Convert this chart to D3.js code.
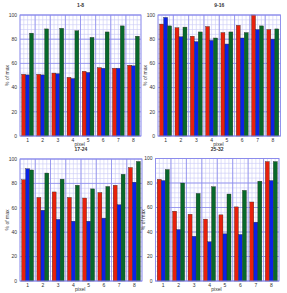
<!DOCTYPE html>
<html>
<head>
<meta charset="utf-8">
<script src="https://cdn.jsdelivr.net/npm/d3@7"></script>
<style>
  html, body { margin: 0; padding: 0; background: #fff; }
  svg { display: block; }
  text { font-family: "Liberation Sans", Arial, sans-serif; fill: #333; }
</style>
</head>
<body>
<div id="chart"></div>
<script>
const categories = ['1', '2', '3', '4', '5', '6', '7', '8'];
const yTicks = [0, 20, 40, 60, 80, 100];

const titles = ['1-8', '9-16', '17-24', '25-32'];

const red1 = [51, 51, 52, 48.5, 53.5, 56.5, 56, 58.5];
const blue1 = [50.5, 50.5, 51.5, 47.5, 52.5, 56, 56, 58];
const green1 = [85, 88.5, 89, 87, 81.5, 86, 91, 82.5];

const red2 = [92.5, 89.5, 82.5, 90.5, 85.5, 91.5, 100, 88];
const blue2 = [98, 82, 78, 79, 76, 81, 88, 80];
const green2 = [91, 90, 86, 81, 86, 85.5, 91, 88.5];

const red3 = [83, 68.5, 73, 68.5, 68, 72.5, 78.5, 93];
const blue3 = [92, 58, 50.5, 49, 49, 51.5, 62.5, 81];
const green3 = [91, 88.5, 83.5, 78.5, 75.5, 77.5, 87.5, 98];

const red4 = [83, 57, 54.5, 50.5, 54, 60.5, 64.5, 97.5];
const blue4 = [82, 42, 36.5, 32, 38.5, 38, 48, 82];
const green4 = [91, 80, 71.5, 77, 71, 74, 81.5, 97.5];

const redColor = '#e8210c';
const blueColor = '#0b22e6';
const greenColor = '#08692a';

const w = 287;
const h = 293;

// plot frames
const panels = [
    {left: 20, top: 15, right: 141, bottom: 136, red: red1, blue: blue1, green: green1},
    {left: 158, top: 15, right: 280.5, bottom: 136, red: red2, blue: blue2, green: green2},
    {left: 20, top: 159, right: 142, bottom: 281, red: red3, blue: blue3, green: green3},
    {left: 155.5, top: 158.5, right: 279, bottom: 281, red: red4, blue: blue4, green: green4}
];

const svg = d3.select('#chart')
    .append('svg')
    .attr('width', w)
    .attr('height', h);

panels.forEach(function (p, idx) {
    const g = svg.append('g');

    const xScale = d3.scaleLinear()
        .domain([0.5, 8.5])
        .range([p.left, p.right]);

    const yScale = d3.scaleLinear()
        .domain([0, 100])
        .range([p.bottom, p.top]);

    // minor grid
    const xMinor = d3.range(0.5, 8.51, 0.25);
    const yMinor = d3.range(0, 100.1, 4);

    g.selectAll('.vminor')
        .data(xMinor)
        .enter()
        .append('line')
        .attr('x1', d => xScale(d))
        .attr('x2', d => xScale(d))
        .attr('y1', p.top)
        .attr('y2', p.bottom)
        .attr('stroke', '#c9c9f6')
        .attr('stroke-width', 0.6);

    g.selectAll('.hminor')
        .data(yMinor)
        .enter()
        .append('line')
        .attr('x1', p.left)
        .attr('x2', p.right)
        .attr('y1', d => yScale(d))
        .attr('y2', d => yScale(d))
        .attr('stroke', '#c9c9f6')
        .attr('stroke-width', 0.6);

    // major grid
    g.selectAll('.vmajor')
        .data(d3.range(1.5, 8.5, 1))
        .enter()
        .append('line')
        .attr('x1', d => xScale(d))
        .attr('x2', d => xScale(d))
        .attr('y1', p.top)
        .attr('y2', p.bottom)
        .attr('stroke', '#8a8aec')
        .attr('stroke-width', 0.8);

    g.selectAll('.hmajor')
        .data(yTicks)
        .enter()
        .append('line')
        .attr('x1', p.left)
        .attr('x2', p.right)
        .attr('y1', d => yScale(d))
        .attr('y2', d => yScale(d))
        .attr('stroke', '#8a8aec')
        .attr('stroke-width', 0.8);

    // bars
    const barW = 0.26;
    const series = [
        {vals: p.red, color: redColor, off: -1},
        {vals: p.blue, color: blueColor, off: 0},
        {vals: p.green, color: greenColor, off: 1}
    ];

    series.forEach(function (s) {
        g.selectAll(null)
            .data(s.vals)
            .enter()
            .append('rect')
            .attr('x', (d, i) => xScale(i + 1 + s.off * barW - barW / 2))
            .attr('y', d => yScale(d))
            .attr('width', xScale(barW) - xScale(0))
            .attr('height', d => yScale(0) - yScale(d))
            .attr('fill', s.color)
            .attr('stroke', '#2a2a2a')
            .attr('stroke-width', 0.35);
    });

    // frame
    g.append('rect')
        .attr('x', p.left)
        .attr('y', p.top)
        .attr('width', p.right - p.left)
        .attr('height', p.bottom - p.top)
        .attr('fill', 'none')
        .attr('stroke', '#8a8aec')
        .attr('stroke-width', 0.9);

    // y tick labels
    g.selectAll('.ylab')
        .data(yTicks)
        .enter()
        .append('text')
        .attr('x', p.left - 3)
        .attr('y', d => yScale(d) + 1.7)
        .attr('text-anchor', 'end')
        .style('font-size', '5px')
        .text(d => d);

    // x tick labels
    g.selectAll('.xlab')
        .data(categories)
        .enter()
        .append('text')
        .attr('x', (d, i) => xScale(i + 1))
        .attr('y', p.bottom + 6)
        .attr('text-anchor', 'middle')
        .style('font-size', '5px')
        .text(d => d);

    // axis titles
    g.append('text')
        .attr('x', xScale(4.45))
        .attr('y', p.bottom + 9.5)
        .attr('text-anchor', 'middle')
        .style('font-size', '5px')
        .text('pixel');

    g.append('text')
        .attr('transform', 'translate(' + (p.left - 11) + ',' + ((p.top + p.bottom) / 2) + ') rotate(-90)')
        .attr('text-anchor', 'middle')
        .style('font-size', '5px')
        .text('% of max');

    g.append('text')
        .attr('x', (p.left + p.right) / 2)
        .attr('y', p.top - 8)
        .attr('text-anchor', 'middle')
        .style('font-size', '5px')
        .style('font-weight', 'bold')
        .text(titles[idx]);
});
</script>
</body>
</html>
